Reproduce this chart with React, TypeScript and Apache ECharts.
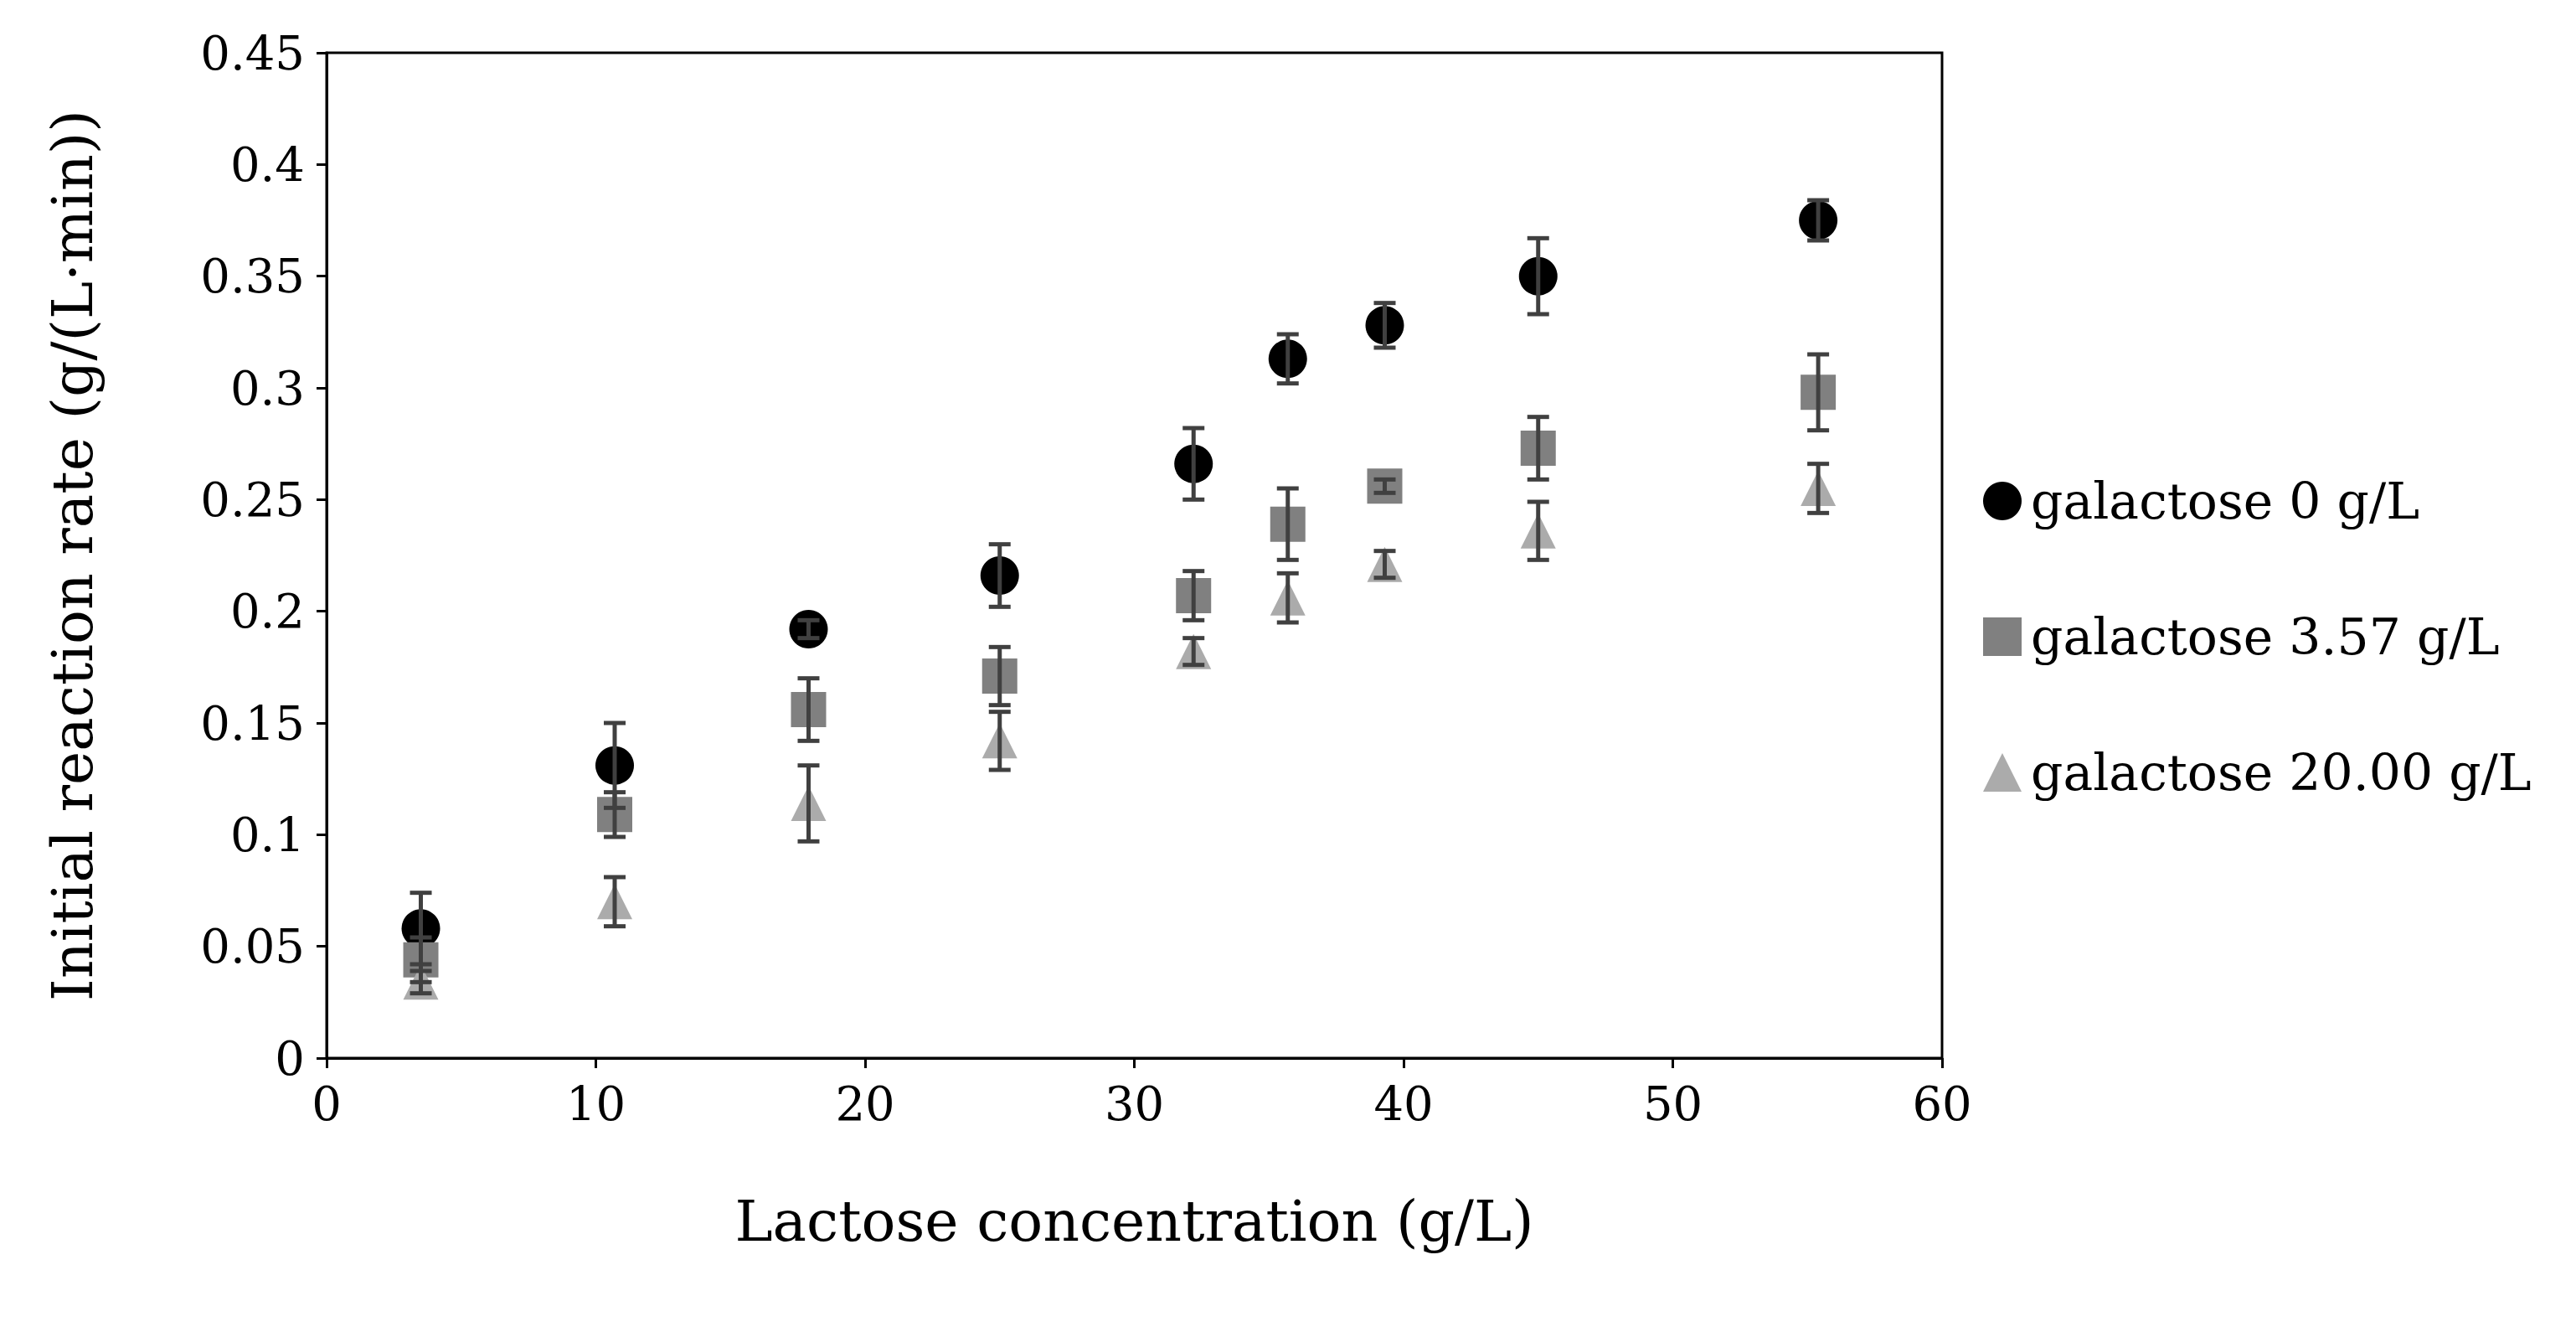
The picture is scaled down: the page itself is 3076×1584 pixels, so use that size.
import { useEffect, useRef } from 'react'
import * as echarts from 'echarts'

const lactose = [3.5, 10.7, 17.9, 25.0, 32.2, 35.7, 39.3, 45.0, 55.4]
const gal0 = [0.058, 0.131, 0.192, 0.216, 0.266, 0.313, 0.328, 0.35, 0.375]
const gal0Err = [0.016, 0.019, 0.004, 0.014, 0.016, 0.011, 0.01, 0.017, 0.009]
const gal357 = [0.044, 0.109, 0.156, 0.171, 0.207, 0.239, 0.256, 0.273, 0.298]
const gal357Err = [0.01, 0.01, 0.014, 0.013, 0.011, 0.016, 0.003, 0.014, 0.017]
const gal20 = [0.034, 0.07, 0.114, 0.142, 0.182, 0.206, 0.221, 0.236, 0.255]
const gal20Err = [0.005, 0.011, 0.017, 0.013, 0.006, 0.011, 0.006, 0.013, 0.011]

const seriesDefs = [
  { name: 'galactose 0 g/L', y: gal0, err: gal0Err, color: '#000000', symbol: 'circle', size: 46 },
  { name: 'galactose 3.57 g/L', y: gal357, err: gal357Err, color: '#808080', symbol: 'rect', size: 42 },
  { name: 'galactose 20.00 g/L', y: gal20, err: gal20Err, color: '#ababab', symbol: 'triangle', size: 42 },
]

const font = 'DejaVu Serif'

export default function App() {
  const ref = useRef<HTMLDivElement>(null)

  useEffect(() => {
    if (!ref.current) return
    const chart = echarts.init(ref.current, null, { renderer: 'svg' })

    const scatter = seriesDefs.map((s) => ({
      name: s.name,
      type: 'scatter',
      symbol: s.symbol,
      symbolSize: s.size,
      itemStyle: { color: s.color, opacity: 1 },
      data: lactose.map((x, i) => [x, s.y[i]]),
      z: 2,
    }))

    const errors = seriesDefs.map((s) => ({
      type: 'custom',
      name: s.name + ' err',
      z: 3,
      data: lactose.map((x, i) => [x, s.y[i] - s.err[i], s.y[i] + s.err[i]]),
      renderItem: (_p: any, api: any) => {
        const lo = api.coord([api.value(0), api.value(1)])
        const hi = api.coord([api.value(0), api.value(2)])
        const w = 13
        const style = { stroke: '#404040', lineWidth: 5 }
        return {
          type: 'group',
          children: [
            { type: 'line', shape: { x1: lo[0], y1: lo[1], x2: hi[0], y2: hi[1] }, style },
            { type: 'line', shape: { x1: lo[0] - w, y1: lo[1], x2: lo[0] + w, y2: lo[1] }, style },
            { type: 'line', shape: { x1: hi[0] - w, y1: hi[1], x2: hi[0] + w, y2: hi[1] }, style },
          ],
        }
      },
    }))

    chart.setOption({
      animation: false,
      textStyle: { fontFamily: font },
      grid: { left: 382, right: 749, top: 55, bottom: 313, show: true, borderColor: '#000', borderWidth: 3 },
      legend: {
        orient: 'vertical',
        left: 2355,
        top: 555,
        itemGap: 102,
        itemWidth: 46,
        itemHeight: 46,
        data: seriesDefs.map((s) => s.name),
        textStyle: { fontFamily: font, fontSize: 60, color: '#000', padding: [0, 0, 0, 6] },
      },
      xAxis: {
        type: 'value',
        min: 0,
        max: 60,
        interval: 10,
        name: 'Lactose concentration (g/L)',
        nameLocation: 'middle',
        nameGap: 160,
        nameTextStyle: { fontFamily: font, fontSize: 68, color: '#000' },
        axisLine: { lineStyle: { color: '#000', width: 3 } },
        axisTick: { show: true, length: 12, lineStyle: { color: '#000', width: 3 } },
        axisLabel: { fontSize: 56, color: '#000', margin: 26, fontFamily: font },
        splitLine: { show: false },
      },
      yAxis: {
        type: 'value',
        min: 0,
        max: 0.45,
        interval: 0.05,
        name: 'Initial reaction rate (g/(L·min))',
        nameLocation: 'middle',
        nameGap: 270,
        nameTextStyle: { fontFamily: font, fontSize: 68, color: '#000' },
        axisLine: { lineStyle: { color: '#000', width: 3 } },
        axisTick: { show: true, length: 12, lineStyle: { color: '#000', width: 3 } },
        axisLabel: { fontSize: 56, color: '#000', margin: 26, fontFamily: font, formatter: (v: number) => String(Number(v.toFixed(2))) },
        splitLine: { show: false },
      },
      series: [...scatter, ...errors],
    })

    return () => chart.dispose()
  }, [])

  return <div ref={ref} style={{ width: 3060, height: 1568, background: '#fff' }} />
}
